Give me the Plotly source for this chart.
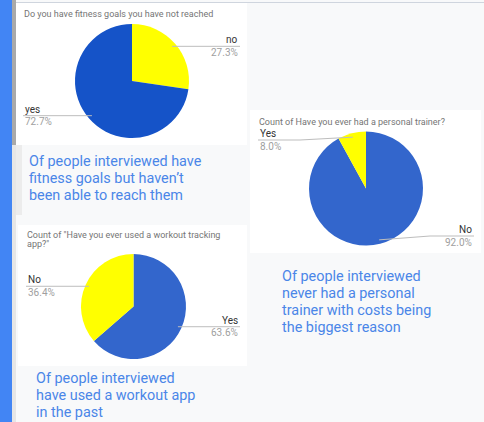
import math
import plotly.graph_objects as go

W, H = 484, 422

# ---- data ----
c1_title = "Do you have fitness goals you have not reached"
c1_labels = ["no", "yes"]
c1_values = [27.3, 72.7]
c1_caption = ["Of people interviewed have", "fitness goals but haven\u2019t", "been able to reach them"]

c2_title = ["Count of \"Have you ever used a workout tracking", "app?\""]
c2_labels = ["Yes", "No"]
c2_values = [63.6, 36.4]
c2_caption = ["Of people interviewed", "have used a workout app", "in the past"]

c3_title = "Count of Have you ever had a personal trainer?"
c3_labels = ["No", "Yes"]
c3_values = [92.0, 8.0]
c3_caption = ["Of people interviewed", "never had a personal", "trainer with costs being", "the biggest reason"]

YELLOW = "#ffff00"
BLUE1 = "#1553c8"
BLUE2 = "#3366cc"
CAP = "#4a86e8"
FONT = "Roboto"
CAPSIZE = 14.4
TSIZE = 9
LSIZE = 10


def px(x):
    return x / W


def py(y):
    return 1 - y / H


shapes = []
annotations = []


def rect(x0, y0, x1, y1, color):
    shapes.append(dict(type="rect", xref="paper", yref="paper", x0=px(x0), x1=px(x1),
                       y0=py(y1), y1=py(y0), fillcolor=color, line=dict(width=0), layer="below"))


def line(points, color="#bdbdbd"):
    path = "M " + " L ".join(f"{px(a)},{py(b)}" for a, b in points)
    shapes.append(dict(type="path", xref="paper", yref="paper", path=path,
                       line=dict(color=color, width=1), layer="above"))


def text(x, y, s, size, color, anchor="left"):
    annotations.append(dict(x=px(x), y=py(y), xref="paper", yref="paper", text=s, showarrow=False,
                            xanchor=anchor, yanchor="middle", font=dict(family=FONT, size=size, color=color)))


# ---- backgrounds ----
rect(0, 0, 12, H, "#4285f4")
rect(12, 0, 16, 145, "#a9a9a9")
rect(12, 145, 16, H, "#e6e6e6")
rect(16, 145, 22, 215, "#ececec")
rect(16, 2, W, 3, "#cfd5de")
rect(16, 3, 247, 145, "#ffffff")
rect(18, 225, 247, 366, "#ffffff")
rect(250, 110, 481, 253, "#ffffff")

fig = go.Figure()


def pie(cx, cy, r, labels, values, colors):
    fig.add_trace(go.Pie(labels=labels, values=values, sort=False, direction="clockwise",
                         rotation=0, textinfo="none", hoverinfo="label+percent",
                         marker=dict(colors=colors, line=dict(width=0)),
                         domain=dict(x=[px(cx - r), px(cx + r)], y=[py(cy + r), py(cy - r)]),
                         showlegend=False))
    total = sum(values)
    acc = 0
    anchors = []
    for v in values:
        mid = (acc + v / 2) / total * 2 * math.pi
        acc += v
        anchors.append((cx + 0.93 * r * math.sin(mid), cy - 0.93 * r * math.cos(mid)))
    return anchors


def pct(v, values):
    return f"{v / sum(values) * 100:.1f}%"


def label(x, ly, name, p, anchor):
    text(x, ly - 6.5, name, LSIZE, "#333333", anchor)
    text(x, ly + 6, p, LSIZE, "#a0a0a0", anchor)


# chart 1
text(22, 14, c1_title, TSIZE, "#757575")
a = pie(132, 81, 57, c1_labels, c1_values, [YELLOW, BLUE1])
line([a[0], (240, a[0][1])])
label(240, a[0][1], c1_labels[0], pct(c1_values[0], c1_values), "right")
line([a[1], (23, a[1][1])])
label(23, a[1][1], c1_labels[1], pct(c1_values[1], c1_values), "left")
for i, s in enumerate(c1_caption):
    text(27, 161 + i * 17, s, CAPSIZE, CAP)

# chart 2
text(25, 235, c2_title[0], TSIZE, "#757575")
text(25, 244, c2_title[1], TSIZE, "#757575")
a = pie(133.5, 306.5, 52.5, c2_labels, c2_values, [BLUE2, YELLOW])
line([a[0], (240, a[0][1])])
label(240, a[0][1], c2_labels[0], pct(c2_values[0], c2_values), "right")
line([a[1], (26, a[1][1])])
label(26, a[1][1], c2_labels[1], pct(c2_values[1], c2_values), "left")
for i, s in enumerate(c2_caption):
    text(34, 378 + i * 17, s, CAPSIZE, CAP)

# chart 3
text(257, 122, c3_title, TSIZE, "#757575")
a = pie(366, 188.5, 57, c3_labels, c3_values, [BLUE2, YELLOW])
line([a[0], (430, 236), (474, 236)])
label(474, 236, c3_labels[0], pct(c3_values[0], c3_values), "right")
line([a[1], (300, 140), (258, 140)])
label(258, 140, c3_labels[1], pct(c3_values[1], c3_values), "left")
for i, s in enumerate(c3_caption):
    text(280, 276 + i * 17.3, s, CAPSIZE, CAP)

fig.update_layout(width=W, height=H, margin=dict(l=0, r=0, t=0, b=0),
                  paper_bgcolor="#f8f9fa", plot_bgcolor="#f8f9fa",
                  shapes=shapes, annotations=annotations, showlegend=False)

fig.write_html("out.html")
